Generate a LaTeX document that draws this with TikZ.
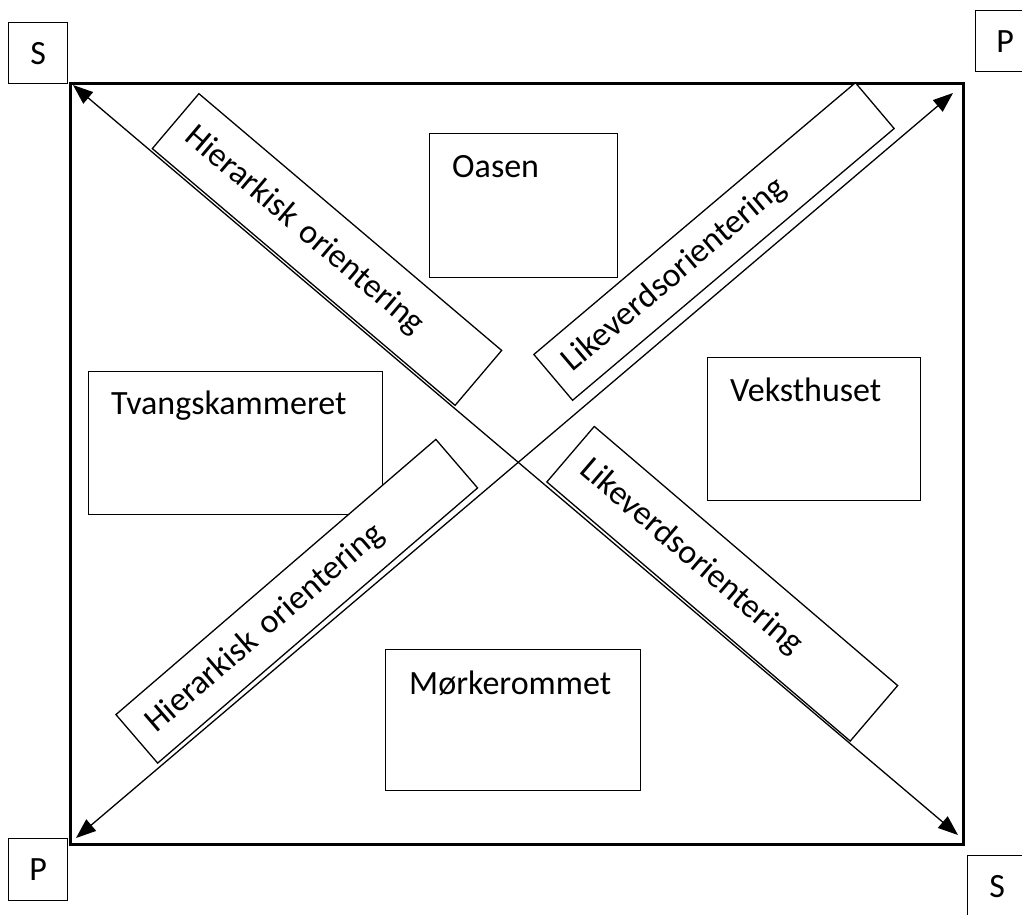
\documentclass[tikz,border=0pt]{standalone}
\usepackage{fontspec}
\setmainfont{Carlito}
\usetikzlibrary{arrows.meta}
\begin{document}
\begin{tikzpicture}[x=1pt,y=-1pt,
  thinbox/.style={draw, line width=1.3pt, inner sep=0pt},
  region/.style={thinbox, anchor=north west},
  cornerbox/.style={thinbox, anchor=north west, minimum width=59pt, minimum height=61pt, font=\fontsize{34}{40}\selectfont},
  lbl/.style={font=\fontsize{34}{40}\selectfont, anchor=base west, inner sep=0pt},
  slant/.style={thinbox, fill=white, font=\fontsize{34}{40}\selectfont, align=left},
  axis/.style={line width=1.3pt, {Triangle[length=20pt,width=15pt]}-{Triangle[length=20pt,width=15pt]}}
]
\useasboundingbox (0,0) rectangle (1022,914);
\clip (0,0) rectangle (1022,914);

% main frame
\draw[line width=3pt] (70,83) rectangle (963,844);

% corner boxes
\node[cornerbox] (stl) at (8,22) {S};
\node[cornerbox] (ptr) at (975,10) {P};
\node[cornerbox, minimum height=62pt] (pbl) at (8,838) {P};
\node[cornerbox] (sbr) at (967,855) {S};

% end points of axes
\coordinate (a1) at (73,85);
\coordinate (a2) at (958,835);
\coordinate (b1) at (76,838);
\coordinate (b2) at (953,93);
\draw[axis] (a1) -- (a2);
\draw[axis] (b1) -- (b2);

% regions
\node[region, minimum width=188pt, minimum height=144pt] (oasen) at (429,133) {};
\node[lbl] (toasen) at (452,177) {Oasen};
\node[region, minimum width=294pt, minimum height=143pt] (tvang) at (88,371) {};
\node[lbl] (ttvang) at (111,414) {Tvangskammeret};
\node[region, minimum width=213pt, minimum height=143pt] (veks) at (707,357) {};
\node[lbl] (tveks) at (730,401) {Veksthuset};
\node[region, minimum width=255pt, minimum height=141pt] (mork) at (385,649) {};
\node[lbl] (tmork) at (409,694) {Mørkerommet};

% slanted label boxes
\node[slant, rotate=-40.3, minimum width=397pt, minimum height=72pt, text width=361pt] (hA) at (327,249.5) {Hierarkisk orientering};
\node[slant, rotate=40.2, minimum width=421pt, minimum height=60pt, text width=385pt] (lB) at (714,241.5) {Likeverdsorientering};
\node[slant, rotate=40.7, minimum width=422pt, minimum height=64pt, text width=386pt] (hC) at (296.75,601.25) {Hierarkisk orientering};
\node[slant, rotate=-40.5, minimum width=399pt, minimum height=73pt, text width=363pt] (lD) at (722.25,583.75) {Likeverdsorientering};
\end{tikzpicture}
\end{document}
